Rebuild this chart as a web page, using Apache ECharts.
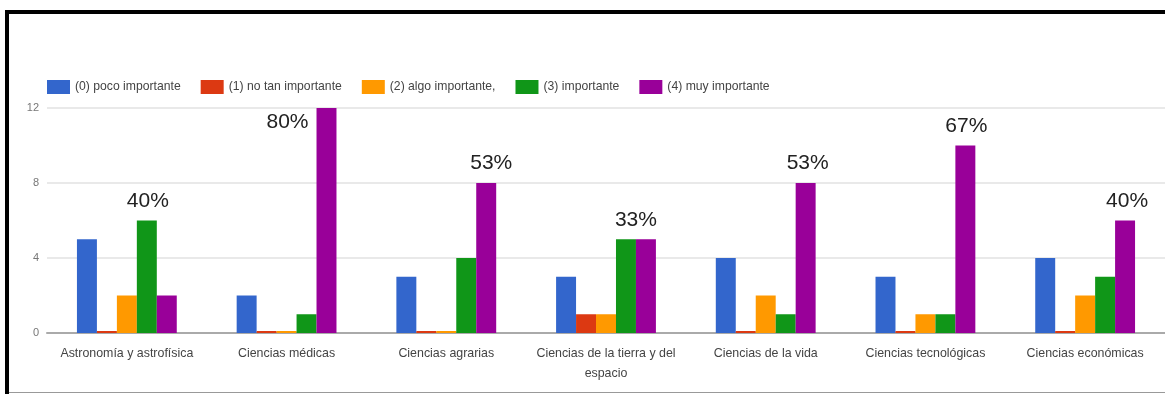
<!DOCTYPE html>
<html>
<head>
<meta charset="utf-8">
<script src="https://cdn.jsdelivr.net/npm/echarts@6/dist/echarts.min.js"></script>
<style>
  html, body { margin: 0; padding: 0; background: #fff; }
  #chart { width: 1165px; height: 394px; }
</style>
</head>
<body>
<div id="chart"></div>
<script>
// Survey answers per field of science (15 respondents each)
const categories = [
  'Astronomía y astrofísica',
  'Ciencias médicas',
  'Ciencias agrarias',
  'Ciencias de la tierra y del espacio',
  'Ciencias de la vida',
  'Ciencias tecnológicas',
  'Ciencias económicas'
];
const seriesNames = [
  '(0) poco importante',
  '(1) no tan importante',
  '(2) algo importante,',
  '(3) importante',
  '(4) muy importante'
];
const pocoImportante  = [5, 2, 3, 3, 4, 3, 4];
const noTanImportante = [0, 0, 0, 1, 0, 0, 0];
const algoImportante  = [2, 0, 0, 1, 2, 1, 2];
const importante      = [6, 1, 4, 5, 1, 1, 3];
const muyImportante   = [2, 12, 8, 5, 8, 10, 6];
const yTicks = [0, 4, 8, 12];

const seriesValues = [pocoImportante, noTanImportante, algoImportante, importante, muyImportante];
const colors = ['#3366cc', '#dc3912', '#ff9900', '#109618', '#990099'];
const sans = '"Liberation Sans", Arial, sans-serif';

// Wrap long category names at word boundaries
function wrapWords(text, maxChars) {
  const lines = [];
  let line = '';
  text.split(' ').forEach(w => {
    const next = line ? line + ' ' + w : w;
    if (next.length > maxChars && line) { lines.push(line); line = w; }
    else line = next;
  });
  lines.push(line);
  return lines.join('\n');
}

// Where the share-of-top-answer label sits for each category
const pctPlacement = [
  { position: 'top', offset: [1, 0] },
  { position: [-8, 4], align: 'right', verticalAlign: 'top' },
  { position: 'top', offset: [5, 0] },
  { position: 'top', offset: [-10, 0] },
  { position: 'top', offset: [2, 0] },
  { position: 'top', offset: [1, 0] },
  { position: 'top', offset: [2, 0] }
];

// For each category: index of the most chosen answer and its share
const topAnswer = categories.map((c, i) => {
  const vals = seriesValues.map(s => s[i]);
  const total = vals.reduce((a, b) => a + b, 0);
  const max = Math.max(...vals);
  return { series: vals.lastIndexOf(max), text: Math.round(max / total * 100) + '%' };
});

const series = seriesValues.map((vals, si) => ({
  name: seriesNames[si],
  type: 'bar',
  barGap: '0%',
  barCategoryGap: '37.5%',
  barMinHeight: 2,
  itemStyle: { color: colors[si] },
  emphasis: { disabled: true },
  data: vals.map((v, ci) => {
    const item = { value: v };
    if (topAnswer[ci].series === si) {
      item.label = Object.assign({
        show: true,
        formatter: topAnswer[ci].text,
        fontFamily: sans,
        fontSize: 21,
        color: '#222',
        distance: 9
      }, pctPlacement[ci]);
    }
    return item;
  })
}));

const chart = echarts.init(document.getElementById('chart'), null, { renderer: 'canvas' });
chart.setOption({
  animation: false,
  color: colors,
  backgroundColor: '#fff',
  legend: {
    left: 47,
    top: 80,
    padding: 0,
    icon: 'rect',
    itemWidth: 23,
    itemHeight: 14,
    itemGap: 20,
    selectedMode: false,
    data: seriesNames,
    textStyle: { fontFamily: sans, fontSize: 12.2, color: '#444' }
  },
  grid: { left: 47, top: 108, bottom: 61, width: 1120 },
  xAxis: {
    type: 'category',
    data: categories,
    axisTick: { show: false },
    axisLine: { lineStyle: { color: '#aaa', width: 2 } },
    axisLabel: {
      interval: 0,
      margin: 11,
      fontFamily: sans,
      fontSize: 12.4,
      color: '#444',
      lineHeight: 20,
      formatter: v => wrapWords(v, 27)
    }
  },
  yAxis: {
    type: 'value',
    min: yTicks[0],
    max: yTicks[yTicks.length - 1],
    interval: yTicks[1] - yTicks[0],
    axisLine: { show: false },
    axisTick: { show: false },
    splitLine: { lineStyle: { color: '#e2e2e2', width: 1.5 } },
    axisLabel: { margin: 8, fontFamily: sans, fontSize: 11, color: '#777' }
  },
  graphic: [
    { type: 'rect', silent: true, z: 100, shape: { x: 5, y: 10, width: 4, height: 384 }, style: { fill: '#000' } },
    { type: 'rect', silent: true, z: 100, shape: { x: 5, y: 10, width: 1160, height: 4 }, style: { fill: '#000' } },
    { type: 'line', silent: true, z: 100, shape: { x1: 9, y1: 392.5, x2: 1165, y2: 392.5 }, style: { stroke: '#999', lineWidth: 1 } }
  ],
  series: series
});
</script>
</body>
</html>
